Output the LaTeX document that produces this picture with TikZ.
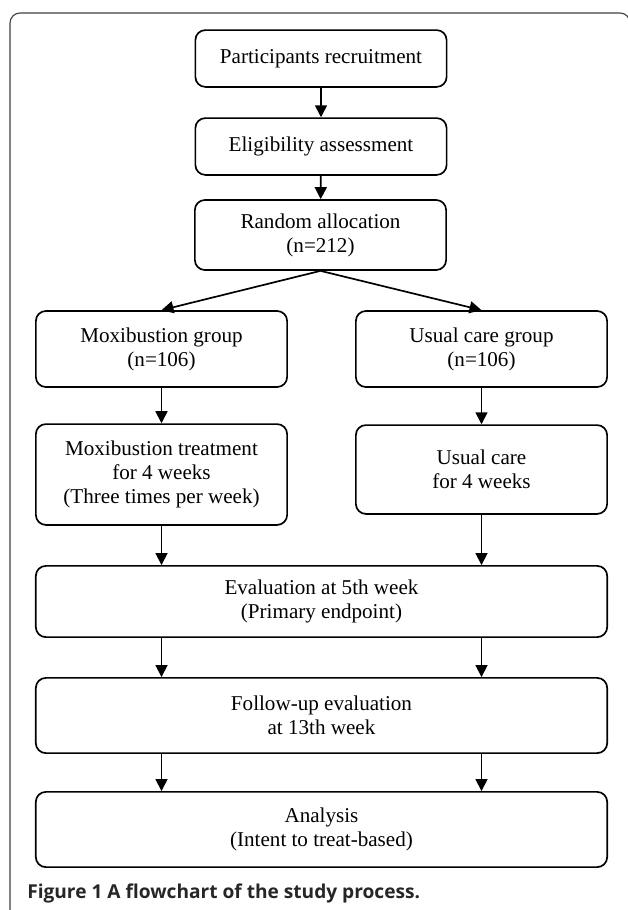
\documentclass[tikz,border=0pt]{standalone}
\usepackage{fontspec}
\setmainfont{Liberation Serif}
\newfontfamily\captionfont{Open Sans}
\usepackage{tikz}
\usetikzlibrary{arrows.meta}
\usetikzlibrary{positioning}

\begin{document}
\begin{tikzpicture}[x=0.025cm, y=-0.025cm]
\tikzset{
    stageBox/.style={
                   draw,
                   line width=1.2pt,
                   rounded corners=0.25cm,
                   align=center,
                   inner sep=0pt,
                   font=\fontsize{15}{17}\selectfont,
                   minimum width=6.28cm
    },
    wideBox/.style={
                   stageBox,
                   minimum width=14.28cm
    },
    flowArrow/.style={
                   -{Triangle[length=3mm, width=3mm]},
                   line width=1.2pt
    }
}
    \useasboundingbox (0,0) rectangle (628,910);
    \clip (0,0) rectangle (628,910);
    \draw[line width=0.8pt, color=black!75, rounded corners=0.25cm] (10,940) -- (10,13) -- (630,13) -- (630,940);

    \node (recruit)[stageBox, minimum height=1.42cm] at (321,58.5) {Participants recruitment};
    \node (elig)[stageBox, minimum height=1.42cm] at (321,146.5) {Eligibility assessment};
    \node (rand)[stageBox, minimum height=1.75cm] at (320.5,235) {Random allocation\\(n=212)};
    \node (moxGroup)[stageBox, minimum height=1.9cm] at (161.5,349) {Moxibustion group\\(n=106)};
    \node (careGroup)[stageBox, minimum height=1.9cm] at (481.5,349) {Usual care group\\(n=106)};
    \node (moxTreat)[stageBox, minimum height=2.52cm] at (161.5,474.5) {Moxibustion treatment\\for 4 weeks\\(Three times per week)};
    \node (careTreat)[stageBox, minimum height=2.22cm] at (481.5,469.5) {Usual care\\for 4 weeks};
    \node (eval)[wideBox, minimum height=1.78cm] at (321.5,601.5) {Evaluation at 5th week\\(Primary endpoint)};
    \node (follow)[wideBox, minimum height=1.88cm] at (321.5,715.5) {Follow-up evaluation\\at 13th week};
    \node (analysis)[wideBox, minimum height=1.88cm] at (321.5,829.5) {Analysis\\(Intent to treat-based)};
    \node (caption)[anchor=west, inner sep=0pt, font=\captionfont\bfseries\fontsize{13.6}{16}\selectfont, color=black!85] at (27,893) {Figure 1 A flowchart of the study process.};

    \draw[flowArrow] (recruit) -- (elig);
    \draw[flowArrow] (elig) -- (rand);
    \draw[flowArrow] (rand.south) -- (moxGroup.north);
    \draw[flowArrow] (rand.south) -- (careGroup.north);
    \draw[flowArrow] (moxGroup) -- (moxTreat);
    \draw[flowArrow] (careGroup) -- (careTreat);
    \draw[flowArrow] (moxTreat) -- (eval.north -| moxTreat);
    \draw[flowArrow] (careTreat) -- (eval.north -| careTreat);
    \draw[flowArrow] (eval.south -| moxTreat) -- (follow.north -| moxTreat);
    \draw[flowArrow] (eval.south -| careTreat) -- (follow.north -| careTreat);
    \draw[flowArrow] (follow.south -| moxTreat) -- (analysis.north -| moxTreat);
    \draw[flowArrow] (follow.south -| careTreat) -- (analysis.north -| careTreat);

\end{tikzpicture}
\end{document}
